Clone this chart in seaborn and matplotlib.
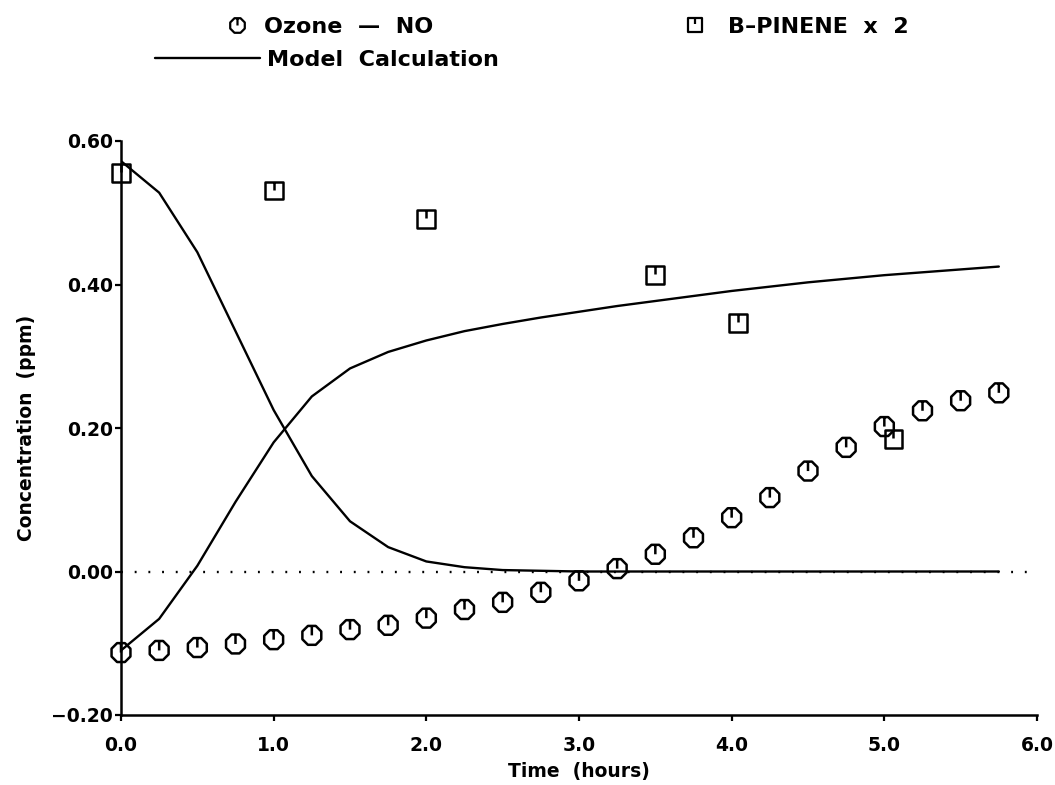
import numpy as np
import pandas as pd
import matplotlib
matplotlib.use("Agg")
import matplotlib.pyplot as plt
from matplotlib.path import Path
from matplotlib.lines import Line2D
import seaborn as sns

# ---------------- data ----------------
obs_time = [0.0, 0.25, 0.5, 0.75, 1.0, 1.25, 1.5, 1.75, 2.0, 2.25, 2.5, 2.75,
            3.0, 3.25, 3.5, 3.75, 4.0, 4.25, 4.5, 4.75, 5.0, 5.25, 5.5, 5.75]
ozone_minus_no = [-0.113, -0.110, -0.106, -0.101, -0.095, -0.089, -0.081, -0.075,
                  -0.065, -0.053, -0.043, -0.029, -0.013, 0.004, 0.024, 0.047,
                  0.075, 0.103, 0.140, 0.173, 0.202, 0.224, 0.238, 0.249]

pinene_time = [0.0, 1.0, 2.0, 3.5, 4.04, 5.06]
pinene_x2 = [0.555, 0.531, 0.491, 0.413, 0.346, 0.185]

model_time = [0.0, 0.25, 0.5, 0.75, 1.0, 1.25, 1.5, 1.75, 2.0, 2.25, 2.5, 2.75,
              3.0, 3.25, 3.5, 3.75, 4.0, 4.25, 4.5, 4.75, 5.0, 5.25, 5.5, 5.75]
model_ozone_no = [-0.110, -0.066, 0.008, 0.097, 0.180, 0.244, 0.283, 0.306,
                  0.322, 0.335, 0.345, 0.354, 0.362, 0.370, 0.377, 0.384,
                  0.391, 0.397, 0.403, 0.408, 0.413, 0.417, 0.421, 0.425]
model_pinene_x2 = [0.572, 0.528, 0.445, 0.335, 0.225, 0.133, 0.070, 0.034,
                   0.014, 0.006, 0.002, 0.001, 0.0, 0.0, 0.0, 0.0,
                   0.0, 0.0, 0.0, 0.0, 0.0, 0.0, 0.0, 0.0]

x_ticks = [0.0, 1.0, 2.0, 3.0, 4.0, 5.0, 6.0]
x_tick_labels = ["0.0", "1.0", "2.0", "3.0", "4.0", "5.0", "6.0"]
y_ticks = [-0.2, 0.0, 0.2, 0.4, 0.6]
y_tick_labels = ["\u22120.20", "0.00", "0.20", "0.40", "0.60"]

label_ozone = "Ozone  \u2014  NO"
label_pinene = "B\u2013PINENE  x  2"
label_model = "Model  Calculation"

# ---------------- style ----------------
sns.set_theme(style="ticks")
plt.rcParams["font.family"] = ["DejaVu Sans"]
plt.rcParams["font.weight"] = "bold"
plt.rcParams["text.color"] = "black"

# custom markers: octagon / square with a small tick from the top
ang = np.deg2rad(22.5 + 45 * np.arange(8))
oct_v = [(float(np.cos(a)), float(np.sin(a))) for a in ang]
top = float(np.sin(np.deg2rad(67.5)))
oct_path = Path(oct_v + [oct_v[0], (0.0, top), (0.0, 0.0)],
                [Path.MOVETO] + [Path.LINETO] * 7 + [Path.CLOSEPOLY, Path.MOVETO, Path.LINETO])
sq_path = Path([(-1, -1), (1, -1), (1, 1), (-1, 1), (-1, -1), (0, 1), (0, 0.1)],
               [Path.MOVETO, Path.LINETO, Path.LINETO, Path.LINETO, Path.CLOSEPOLY,
                Path.MOVETO, Path.LINETO])

fig = plt.figure(figsize=(10.55, 7.85), dpi=100)
ax = fig.add_axes([121 / 1055, 1 - 715 / 785, (1037 - 121) / 1055, (715 - 141) / 785])

df_model = pd.DataFrame({"t": model_time, "ozone": model_ozone_no, "pinene": model_pinene_x2})
df_obs = pd.DataFrame({"t": obs_time, "ozone": ozone_minus_no})
df_pin = pd.DataFrame({"t": pinene_time, "pinene": pinene_x2})

# zero reference line
ax.axhline(0.0, color="black", lw=1.7, ls=(0, (0.8, 5.0)), zorder=1)

sns.lineplot(data=df_model, x="t", y="pinene", color="black", lw=1.7, ax=ax, zorder=2)
sns.lineplot(data=df_model, x="t", y="ozone", color="black", lw=1.7, ax=ax, zorder=2)

sns.scatterplot(data=df_obs, x="t", y="ozone", marker=oct_path, s=185, color="black",
                facecolor="none", edgecolor="black", linewidth=1.8, ax=ax, zorder=3,
                clip_on=False)
sns.scatterplot(data=df_pin, x="t", y="pinene", marker=sq_path, s=165, color="black",
                facecolor="none", edgecolor="black", linewidth=1.8, ax=ax, zorder=3,
                clip_on=False)
for coll in ax.collections:
    coll.set_facecolor("none")

ax.set_xlim(0, 6)
ax.set_ylim(-0.2, 0.6)
ax.set_xticks(x_ticks)
ax.set_xticklabels(x_tick_labels)
ax.set_yticks(y_ticks)
ax.set_yticklabels(y_tick_labels)
ax.tick_params(axis="both", direction="out", length=4.5, width=1.6, color="black",
               labelsize=13.5, labelcolor="black")
ax.tick_params(axis="x", pad=10.5)
ax.tick_params(axis="y", pad=1.5)
for lab in ax.get_xticklabels() + ax.get_yticklabels():
    lab.set_fontweight("bold")

for side in ["top", "right"]:
    ax.spines[side].set_visible(False)
for side in ["left", "bottom"]:
    ax.spines[side].set_linewidth(1.8)
    ax.spines[side].set_color("black")

ax.set_xlabel("Time  (hours)", fontsize=13.5, fontweight="bold", color="black")
ax.set_ylabel("Concentration  (ppm)", fontsize=13.5, fontweight="bold", color="black")
ax.xaxis.set_label_coords(0.5, (715 - 762) / 574)
ax.yaxis.set_label_coords((36 - 121) / 916, 0.5)
ax.set_facecolor("white")
fig.patch.set_facecolor("white")

# legend
fs = 16
px = fs * 100 / 72
h_oz = Line2D([], [], marker=oct_path, markersize=10.5, mfc="none", mec="black", mew=1.6, ls="")
h_pi = Line2D([], [], marker=sq_path, markersize=10.0, mfc="none", mec="black", mew=1.6, ls="")
h_mo = Line2D([], [], color="black", lw=1.7)

common = dict(loc="center left", frameon=False, borderpad=0, borderaxespad=0,
              labelcolor="black", prop={"weight": "bold", "size": fs})
fig.legend([h_oz], [label_ozone], bbox_to_anchor=(227 / 1055, 1 - 27 / 785),
           handlelength=20 / px, handletextpad=17 / px, **common)
fig.legend([h_pi], [label_pinene], bbox_to_anchor=(685 / 1055, 1 - 27 / 785),
           handlelength=20 / px, handletextpad=23 / px, **common)
fig.legend([h_mo], [label_model], bbox_to_anchor=(155 / 1055, 1 - 60 / 785),
           handlelength=105 / px, handletextpad=7 / px, **common)

fig.savefig("out.png", dpi=100, facecolor="white")
